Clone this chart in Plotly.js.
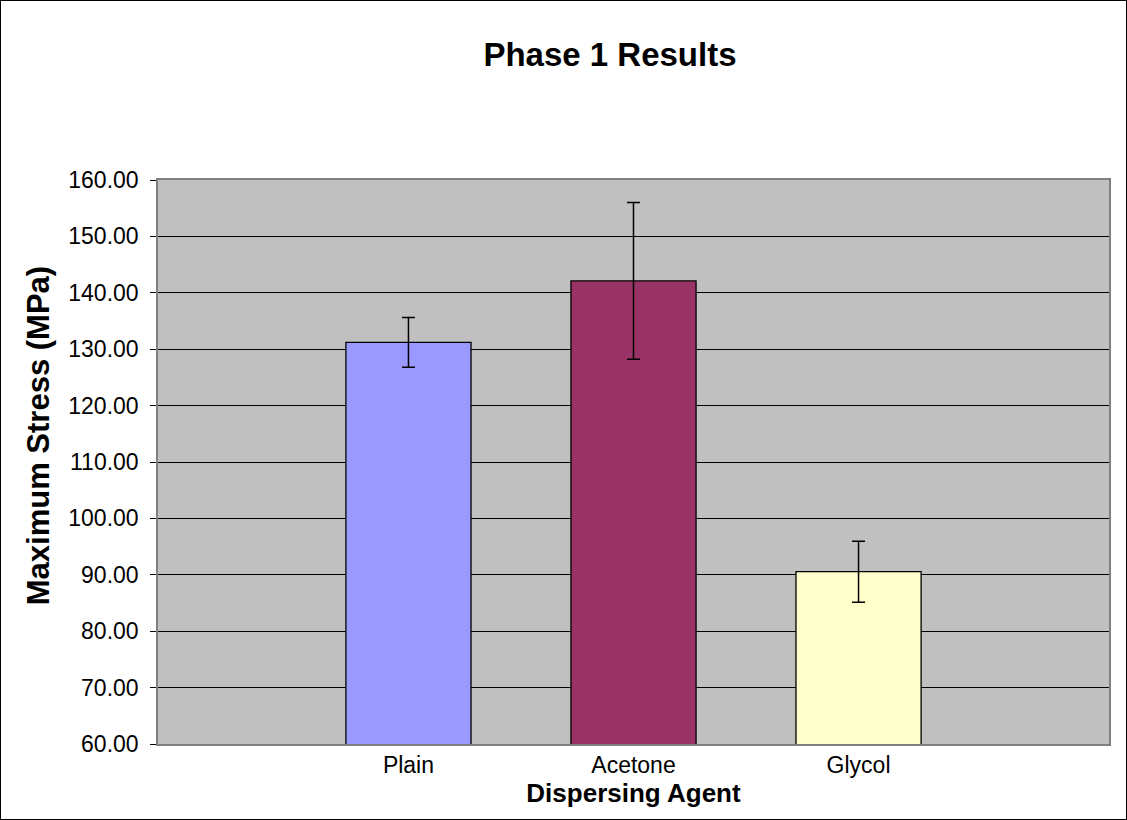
<!DOCTYPE html>
<html>
<head>
<meta charset="utf-8">
<script src="https://cdn.plot.ly/plotly-3.0.1.min.js"></script>
<style>
html,body{margin:0;padding:0;background:#fff;}
#wrap{width:1125px;height:818px;border:1px solid #000;}
</style>
</head>
<body>
<div id="wrap"><div id="chart"></div></div>
<script>
const categories = ["Plain", "Acetone", "Glycol"];
const values = [131.2, 142.1, 90.55];
const errors = [4.4, 13.9, 5.4];
const colors = ["#9999FF", "#993366", "#FFFFCC"];
const yTicks = [60, 70, 80, 90, 100, 110, 120, 130, 140, 150, 160];
const yTitle = "Maximum Stress (MPa)";

const trace = {
  type: "bar",
  x: categories,
  y: values,
  width: 0.556,
  marker: {color: colors, line: {color: "#000", width: 1.3}},
  error_y: {type: "data", array: errors, visible: true, color: "#000", thickness: 1.5, width: 6.5},
  hoverinfo: "x+y"
};

const layout = {
  width: 1125, height: 818,
  margin: {l: 157, r: 17, t: 179, b: 75},
  paper_bgcolor: "#fff",
  plot_bgcolor: "#C0C0C0",
  showlegend: false,
  font: {family: "Liberation Sans, Arial, sans-serif", color: "#000"},
  title: {text: "<b>Phase 1 Results</b>", font: {size: 33, color: "#000"}, x: 0.5413, xanchor: "center", y: 0.935, yanchor: "middle"},
  xaxis: {
    type: "category",
    range: [-1.113, 3.113],
    showgrid: false,
    showline: true, linecolor: "#808080", linewidth: 1.5, mirror: true,
    ticks: "", tickfont: {size: 23},
    ticklabelstandoff: 0,
    title: {text: "<b>Dispersing Agent</b>", font: {size: 26}, standoff: 5}
  },
  yaxis: {
    range: [60, 160],
    tickvals: yTicks,
    tickformat: ".2f",
    showgrid: true, gridcolor: "#000", gridwidth: 1,
    showline: true, linecolor: "#808080", linewidth: 1.5, mirror: true,
    ticks: "outside", ticklen: 6, tickcolor: "#000", tickwidth: 1,
    ticklabelstandoff: 7,
    tickfont: {size: 23},
    zeroline: false
  },
  annotations: [{
    text: "<b>" + yTitle + "</b>",
    xref: "paper", yref: "paper",
    x: -0.126, y: 0.546,
    xanchor: "center", yanchor: "middle",
    textangle: -90, showarrow: false,
    font: {size: 31, color: "#000"}
  }]
};

Plotly.newPlot("chart", [trace], layout, {displayModeBar: false});
</script>
</body>
</html>
